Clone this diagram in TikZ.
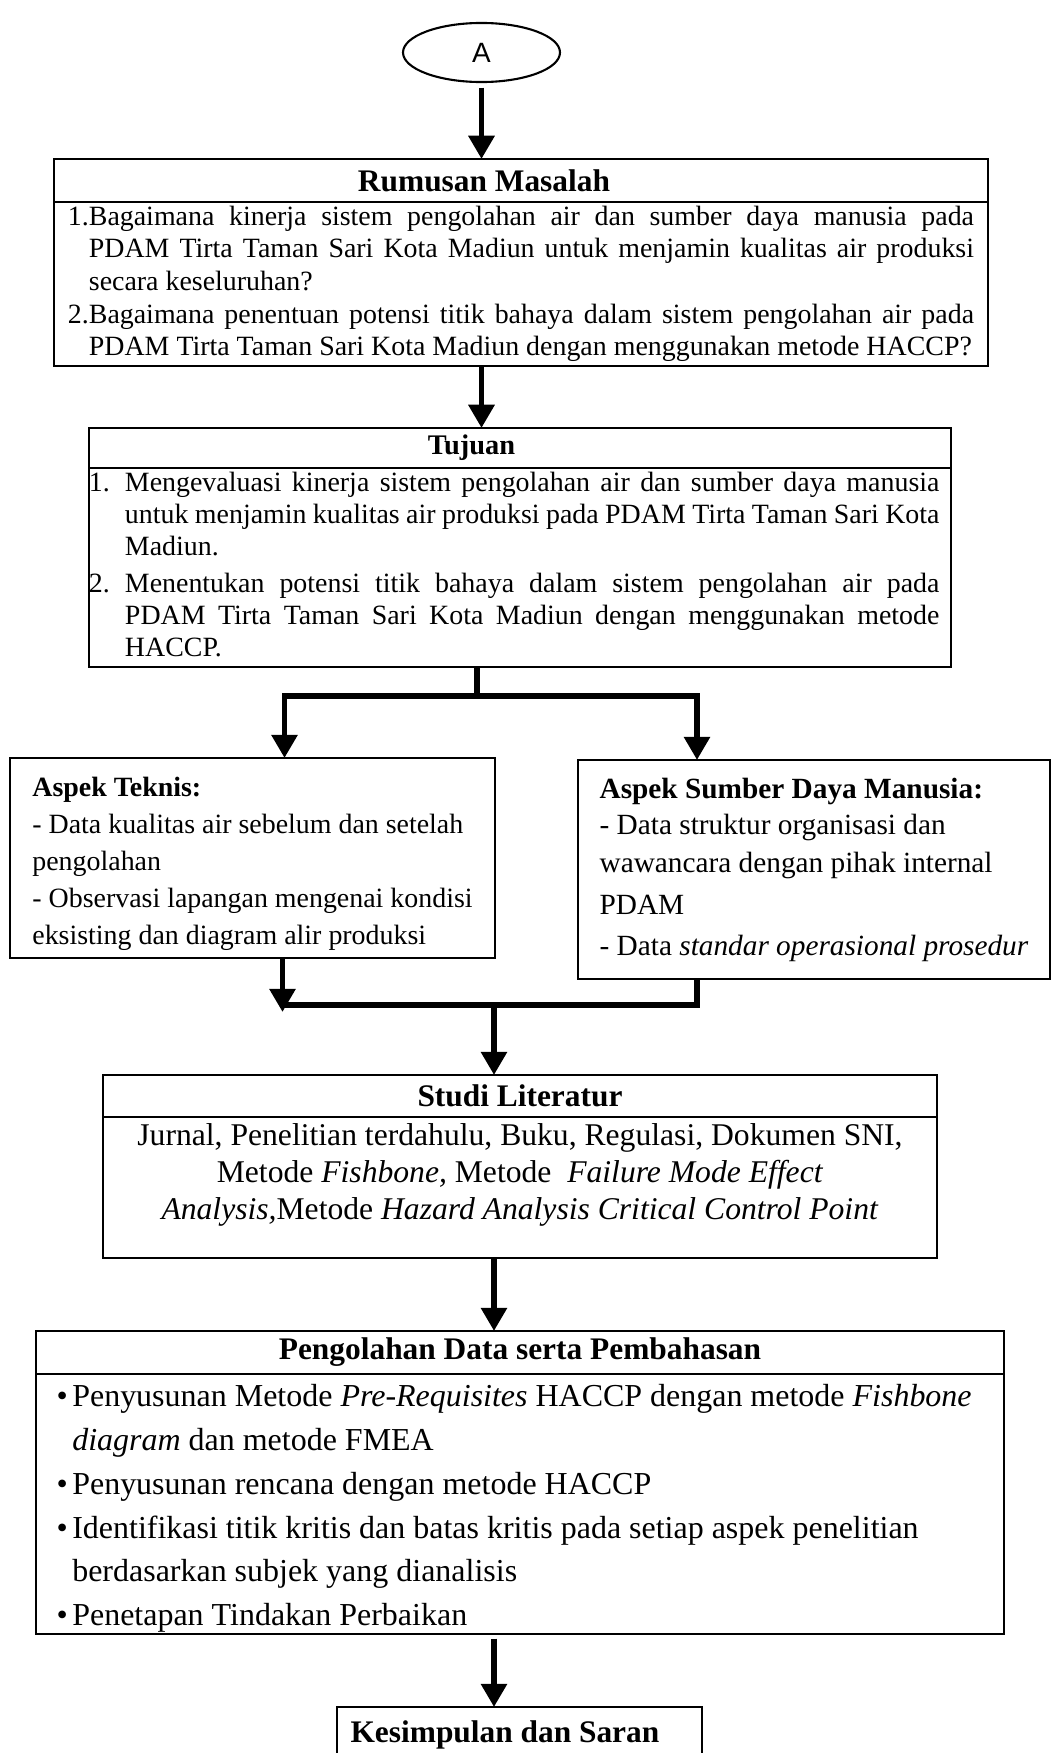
\documentclass[tikz,border=0pt]{standalone}
\usepackage{fontspec}
\setmainfont{Liberation Serif}
\newfontfamily\arialfont{Liberation Sans}
\usetikzlibrary{arrows.meta,positioning,calc,shapes.geometric}

\begin{document}
\begin{tikzpicture}[
  x=0.43pt, y=-0.43pt,
  box/.style={draw, line width=1pt, outer sep=0pt, inner sep=0pt},
  ttl/.style={box, anchor=north, font=\fontsize{13.5}{16}\selectfont\bfseries},
  arr/.style={-{Triangle[width=10.8pt,length=10pt]}, line width=2.5pt},
  ln/.style={line width=2.5pt}
]
\useasboundingbox (0,0) rectangle (1052,1753);
\clip (0,0) rectangle (1052,1753);
\node[draw, ellipse, line width=0.9pt, inner sep=0pt, minimum width=67.5pt, minimum height=25.4pt,
  font=\arialfont\fontsize{12}{14}\selectfont] (A) at (481.5,52.5) {A};
\node[ttl, minimum width=401.6pt, minimum height=18.5pt] (rmt) at (521,159) {\hspace*{-31.8pt}Rumusan Masalah};
\node[box, below=0pt of rmt, minimum width=401.6pt, minimum height=70.5pt,
  font=\fontsize{12}{14}\selectfont] (rmb) {%
  \begin{tabular}{@{}l@{}p{380.6pt}@{}}
  1.&Bagaimana kinerja sistem pengolahan air dan sumber daya manusia pada\linebreak
  PDAM Tirta Taman Sari Kota Madiun untuk menjamin kualitas air produksi\linebreak
  secara keseluruhan?\\
  2.&Bagaimana penentuan potensi titik bahaya dalam sistem pengolahan air pada\linebreak
  PDAM Tirta Taman Sari Kota Madiun dengan menggunakan metode HACCP?
  \end{tabular}};
\node[ttl, minimum width=370.7pt, minimum height=17.2pt, font=\fontsize{12.2}{14}\selectfont\bfseries]
  (tjt) at (520,428) {\hspace*{-41.7pt}Tujuan};
\node[box, below=0pt of tjt, minimum width=370.7pt, minimum height=85.6pt,
  font=\fontsize{12}{13.76}\selectfont] (tjb) {%
  \begin{tabular}{@{}p{15.5pt}@{}p{350.2pt}@{\hspace{5pt}}}
  1.&Mengevaluasi kinerja sistem pengolahan air dan sumber daya manusia\linebreak
  untuk menjamin kualitas air produksi pada PDAM Tirta Taman Sari Kota\linebreak
  Madiun.\\[2.2pt]
  2.&Menentukan potensi titik bahaya dalam sistem pengolahan air pada\linebreak
  PDAM Tirta Taman Sari Kota Madiun dengan menggunakan metode\linebreak
  HACCP.
  \end{tabular}};
\node[box, anchor=north, minimum width=208.55pt, minimum height=86pt, align=left,
  font=\fontsize{12}{15.9}\selectfont] (tk) at (252.5,758) {%
  \rule{0pt}{13pt}\textbf{Aspek Teknis:}\\
  - Data kualitas air sebelum dan setelah\\
  pengolahan\\
  - Observasi lapangan mengenai kondisi\\
  eksisting dan diagram alir produksi};
\node[box, anchor=north, minimum width=203pt, minimum height=94.2pt, align=left,
  font=\fontsize{12.6}{15.5}\selectfont] (sd) at (814,760) {%
  \textbf{Aspek Sumber Daya Manusia:}\\
  - Data struktur organisasi dan\\[1pt]
  wawancara dengan pihak internal\\[2.5pt]
  PDAM\\[2pt]
  - Data \textit{standar operasional prosedur}};
\node[ttl, minimum width=358.6pt, minimum height=18.06pt] (slt) at (520,1075) {Studi Literatur};
\node[box, below=0pt of slt, minimum width=358.6pt, minimum height=60.6pt, align=center,
  font=\fontsize{13.6}{15.9}\selectfont] (slb) {%
  \rule{0pt}{12.3pt}Jurnal, Penelitian terdahulu, Buku, Regulasi, Dokumen SNI,\\
  Metode \textit{Fishbone,} Metode\ \ \textit{Failure Mode Effect}\\
  \textit{Analysis,}Metode \textit{Hazard Analysis Critical Control Point}\rule[-16.2pt]{0pt}{16.2pt}};
\node[ttl, minimum width=416.2pt, minimum height=18.5pt] (pdt) at (520,1331) {Pengolahan Data serta Pembahasan};
\node[box, below=0pt of pdt, minimum width=416.2pt, minimum height=111.8pt, align=left,
  font=\fontsize{13.75}{18.83}\selectfont] (pdb) {%
  \rule{0pt}{13.3pt}\makebox[6.7pt][l]{\textbullet}Penyusunan Metode \textit{Pre-Requisites} HACCP dengan metode \textit{Fishbone}\hspace*{5pt}\\
  \hspace*{6.7pt}\textit{diagram} dan metode FMEA\\
  \makebox[6.7pt][l]{\textbullet}Penyusunan rencana dengan metode HACCP\\
  \makebox[6.7pt][l]{\textbullet}Identifikasi titik kritis dan batas kritis pada setiap aspek penelitian\\
  \hspace*{6.7pt}berdasarkan subjek yang dianalisis\\
  \makebox[6.7pt][l]{\textbullet}Penetapan Tindakan Perbaikan};
\node[ttl, minimum width=157pt, minimum height=24.1pt] (ks) at (519.5,1707) {\hspace*{-12.5pt}Kesimpulan dan Saran};
\coordinate (j1) at (477,696);
\coordinate (j2) at (494,1005);
\draw[arr, shorten <=2pt] (A.south) -- (A.south |- rmt.north);
\draw[arr] (rmb.south -| A) -- (tjt.north -| A);
\draw[ln] (tjb.south -| j1) -- (j1);
\draw[arr] (j1) -| ($(tk.north)+(32,0)$);
\draw[arr] (j1) -| ($(sd.north)+(-117,0)$);
\draw[arr] ($(tk.south)+(30,0)$) -- ++(0,54);
\draw[ln] ($(sd.south)+(-117,0)$) |- ($(tk.south)+(27,47)$);
\draw[arr] (j2) -- (slt.north -| j2);
\draw[arr] (slb.south -| j2) -- (pdt.north -| j2);
\draw[arr, shorten <=2pt] (pdb.south -| j2) -- (ks.north -| j2);
\end{tikzpicture}
\end{document}
